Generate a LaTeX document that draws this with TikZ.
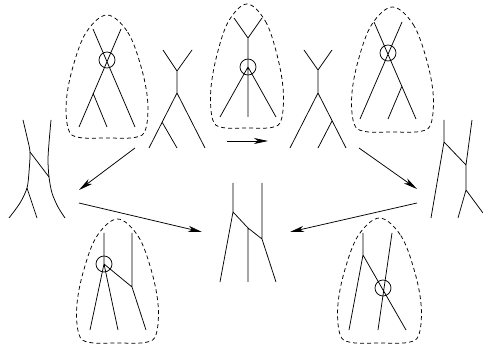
\documentclass[tikz,border=0pt]{standalone}
\usetikzlibrary{arrows.meta}
\tikzset{
  strand/.style={line width=0.75pt},
  ring/.style={line width=0.75pt},
  arr/.style={line width=0.75pt,-{Stealth[length=14pt,width=6pt,inset=4pt]}},
  bubbleline/.style={dash pattern=on 4pt off 3pt,line width=0.75pt}
}
\newcommand{\bubble}[4]{%
  \draw[bubbleline,shift={(#1,#2)},xscale=#3,yscale=#4]
    plot[smooth cycle,tension=0.6] coordinates {(0,0) (0.5,0.14) (0.82,0.42) (0.98,0.7)
      (0.93,0.93) (0.68,0.995) (0,1) (-0.68,0.995) (-0.93,0.93) (-0.98,0.7) (-0.82,0.42) (-0.5,0.14)};}
\begin{document}
\begin{tikzpicture}[x=1pt,y=-1pt]
  \useasboundingbox (0,0) rectangle (483,350);
  % top row
  \bubble{107}{15}{41.5}{123}
  \draw[strand] (93,29)--(135,127) (121,29)--(79,127) (93,93)--(107,127);
  \draw[ring] (107,60) circle[radius=8];
  \draw[strand] (163,50)--(177,71)--(192,50) (177,71)--(177,93)
    (149,148)--(177,93)--(205,148) (162,122)--(177,148);
  \bubble{247}{4}{37}{124}
  \draw[strand] (234,18)--(248,38)--(262,18) (248,38)--(248,117)
    (220,117)--(248,67)--(276,117);
  \draw[ring] (248,67) circle[radius=8];
  \draw[strand] (304,50)--(318,70)--(332,50) (318,70)--(318,93)
    (290,148)--(318,93)--(346,148) (332,121)--(318,148);
  \bubble{392.5}{7}{41.5}{125}
  \draw[strand] (374,22)--(416,119) (402,22)--(360,119) (402,86)--(388,119);
  \draw[ring] (388,53) circle[radius=8];
  % sides and centre
  \draw[strand] plot[smooth] coordinates {(23,120) (27,137) (30,152) (29,172) (27,188) (20,203) (9,218)};
  \draw[strand] (27,188)--(37,218) (30,152)--(49,177);
  \draw[strand] plot[smooth] coordinates {(51,120) (49,143) (48,160) (49,177) (52,193) (58,207) (65,218)};
  \draw[strand] (444,120)--(444,142)--(431,218) (444,142)--(466,165)
    (472,120)--(466,165)--(466,190) (458,218)--(466,190)--(483,213);
  \draw[strand] (233,183)--(233,212)--(220,282) (233,212)--(248,228)--(262,239)
    (248,228)--(248,282) (262,183)--(262,239)--(276,282);
  % bottom row
  \bubble{117.5}{219}{41.5}{124}
  \draw[strand] (104,233)--(104,264) (90,330)--(104,264)--(118,330) (104,264)--(132,287)
    (132,233)--(132,287)--(146,330);
  \draw[ring] (104,264) circle[radius=8];
  \bubble{379.5}{218}{42.5}{125}
  \draw[strand] (363,233)--(363,255) (349,330)--(363,255)--(406,330) (392,233)--(378,330);
  \draw[ring] (383,288) circle[radius=8];
  % arrows
  \coordinate (fromB) at (135,148);
  \coordinate (toF) at (79,190);
  \coordinate (fromF) at (79,203);
  \coordinate (toHl) at (202,232);
  \coordinate (fromC) at (227,141);
  \coordinate (toD) at (268,141);
  \coordinate (fromD) at (359,148);
  \coordinate (toG) at (417,189);
  \coordinate (fromG) at (417,203);
  \coordinate (toHr) at (290,232);
  \draw[arr] (fromB)--(toF);
  \draw[arr] (fromF)--(toHl);
  \draw[arr] (fromC)--(toD);
  \draw[arr] (fromD)--(toG);
  \draw[arr] (fromG)--(toHr);
\end{tikzpicture}
\end{document}
